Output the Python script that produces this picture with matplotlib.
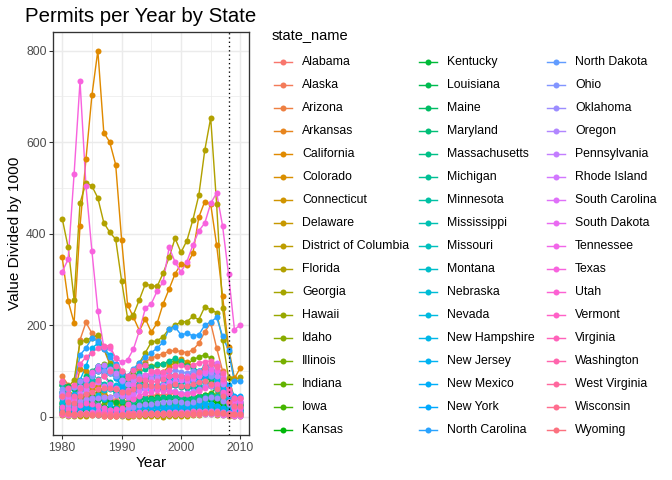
import math
import numpy as np
import matplotlib
matplotlib.use("Agg")
import matplotlib.pyplot as plt
from matplotlib.lines import Line2D

plt.rcParams['font.family'] = ['Liberation Sans', 'DejaVu Sans']

years = list(range(1980, 2011))

alabama = [35,30,29,40,44,47,46,40,38,36,34,34,38,42,45,46,48,47,50,52,48,50,54,58,64,70,66,50,34,22,20]
alaska = [12,15,22,30,28,20,10,4,2,2,3,4,5,6,6,6,5,5,5,5,5,5,6,7,8,8,7,5,3,2,2]
arizona = [88,70,66,168,206,182,172,148,115,92,62,64,80,102,120,128,133,138,143,145,142,140,146,160,185,205,150,100,52,30,32]
arkansas = [22,18,17,22,25,24,22,18,16,15,15,16,20,24,26,27,28,27,28,29,28,29,32,35,40,42,38,30,22,18,17]
california = [348,253,205,417,563,702,800,621,600,551,387,245,217,188,214,185,205,247,279,312,334,332,357,436,470,465,375,264,152,84,107]
colorado = [70,60,45,105,100,78,60,42,32,30,32,45,62,80,88,90,95,98,110,118,125,120,110,95,105,100,90,70,45,22,28]
connecticut = [22,20,22,38,50,62,66,55,42,30,20,18,20,22,24,20,20,22,24,24,22,20,22,24,26,26,22,18,12,8,9]
delaware = [8,7,7,10,12,14,16,15,14,12,10,10,11,12,12,12,13,13,14,14,14,14,15,16,18,17,15,12,9,7,8]
district_of_columbia = [3,2,1,2,2,3,3,2,2,1,1,0,1,1,1,1,1,0,1,1,2,2,3,4,5,6,4,3,2,1,2]
florida = [433,370,256,467,511,504,478,424,403,388,297,216,223,256,290,286,285,314,348,390,359,385,430,484,582,653,464,237,142,80,87]
georgia = [75,65,80,163,168,172,179,150,118,96,78,72,92,118,140,163,166,175,192,200,207,208,219,212,240,234,227,168,85,40,40]
hawaii = [20,18,16,18,20,20,24,28,32,30,28,24,20,18,16,14,12,10,10,12,12,12,14,16,20,22,20,16,12,8,9]
idaho = [10,8,8,10,10,10,10,10,12,16,20,22,26,30,30,28,28,28,28,30,32,34,38,42,48,52,48,34,20,10,10]
illinois = [55,45,42,60,72,90,110,115,112,105,95,85,100,110,115,110,112,115,120,122,118,112,125,130,135,128,110,80,50,24,22]
indiana = [30,22,25,38,42,48,55,60,62,58,52,50,60,70,80,84,85,82,88,92,88,84,85,88,85,80,68,50,35,25,26]
iowa = [18,12,10,16,16,15,15,16,18,20,20,22,26,28,28,26,28,28,30,32,32,34,36,38,40,38,34,30,24,22,24]
kansas = [24,18,16,28,32,30,26,22,20,20,20,22,26,30,32,30,30,30,30,32,30,30,32,35,36,34,30,24,18,14,14]
kentucky = [30,22,20,28,32,34,36,36,34,32,32,30,34,38,40,40,42,40,42,44,42,40,44,46,48,46,40,32,24,18,18]
louisiana = [70,68,60,75,62,40,22,15,14,14,15,18,22,28,32,34,36,38,38,38,36,36,38,40,44,50,65,55,40,30,28]
maine = [10,8,8,12,14,18,22,22,20,16,12,10,10,12,12,12,12,12,14,16,16,16,18,20,22,22,18,14,10,8,8]
maryland = [55,45,45,72,88,100,110,100,95,85,68,60,65,70,72,65,62,62,68,70,65,62,62,65,68,66,58,45,35,28,26]
massachusetts = [28,26,32,50,68,90,100,92,75,52,35,28,32,36,40,38,40,42,44,44,42,38,40,42,46,48,40,34,24,18,20]
michigan = [70,45,38,58,75,88,100,108,110,102,90,80,88,96,105,108,115,115,122,128,122,110,105,100,96,85,62,40,24,15,16]
minnesota = [46,40,42,70,78,80,78,72,64,56,52,52,58,62,65,62,62,62,68,72,72,75,85,92,96,88,70,50,34,24,26]
mississippi = [22,18,16,20,20,18,16,14,12,12,12,14,16,20,24,24,25,25,26,28,26,26,28,32,36,40,45,38,28,20,20]
missouri = [40,30,30,55,70,78,82,70,60,52,48,46,52,60,64,60,62,62,66,70,66,64,68,72,76,72,60,44,30,22,22]
montana = [7,5,4,6,6,5,4,3,3,3,4,5,7,8,8,7,7,6,6,7,7,7,8,9,10,12,12,10,7,5,5]
nebraska = [15,10,10,16,18,16,14,14,14,16,18,20,22,24,24,22,22,22,24,26,26,26,28,30,30,28,24,20,16,14,14]
nevada = [32,25,22,30,36,40,48,58,65,70,68,55,60,72,85,92,88,85,82,85,88,90,95,100,110,105,88,60,30,15,14]
new_hampshire = [14,14,18,26,32,40,44,38,28,18,10,8,9,10,11,12,12,14,16,16,16,16,18,18,18,16,14,10,7,6,6]
new_jersey = [55,45,50,80,110,150,160,150,135,110,75,50,55,62,70,68,70,72,78,80,80,75,78,80,85,88,80,60,40,30,32]
new_mexico = [18,14,12,20,22,20,16,12,10,10,10,12,16,20,22,20,18,18,18,20,20,22,24,26,28,28,24,18,12,10,10]
new_york = [50,42,45,62,78,95,110,105,95,85,65,55,58,60,62,58,60,62,68,75,80,82,82,88,92,100,95,85,70,45,46]
north_carolina = [75,60,65,135,150,172,165,148,130,115,95,90,105,118,130,140,150,163,192,196,179,182,177,179,200,207,217,176,145,77,78]
north_dakota = [8,6,5,7,8,7,5,3,3,3,3,4,5,6,6,6,6,6,7,7,6,7,8,9,10,10,9,9,8,8,10]
ohio = [60,42,40,65,80,90,100,100,95,88,78,72,80,88,92,90,92,92,98,102,98,95,100,100,96,88,68,50,32,22,22]
oklahoma = [55,60,65,78,58,40,25,18,14,14,16,18,22,26,28,28,30,32,32,34,32,30,32,36,40,42,40,34,28,22,22]
oregon = [42,25,22,35,38,38,40,42,44,48,45,42,50,58,62,62,64,62,58,56,52,52,56,60,66,68,62,50,32,18,18]
pennsylvania = [50,40,42,65,82,95,110,112,105,95,80,72,80,85,88,82,85,88,90,92,88,86,90,92,95,98,88,72,50,38,38]
rhode_island = [5,4,5,7,9,11,12,10,8,6,4,4,4,5,5,5,5,5,6,6,6,6,6,6,6,6,5,4,3,2,2]
south_carolina = [45,38,35,52,60,70,75,68,62,60,50,46,50,56,62,62,65,70,75,78,80,78,82,90,100,115,118,90,55,35,35]
south_dakota = [6,4,4,6,7,6,6,6,6,6,7,8,9,10,10,9,9,9,10,10,10,10,12,12,12,12,12,10,8,8,8]
tennessee = [45,35,38,62,82,98,104,88,72,62,55,58,70,82,92,95,98,92,90,88,85,88,92,95,100,105,100,78,52,32,30]
texas = [317,344,530,733,504,362,231,152,150,128,119,124,148,188,237,247,275,295,370,338,316,339,375,406,423,466,489,417,312,190,201]
utah = [22,16,16,25,30,28,24,18,14,16,20,28,38,46,52,55,58,56,56,54,50,50,52,56,62,70,72,55,32,20,20]
vermont = [6,5,5,7,8,9,10,9,8,6,5,5,5,5,5,5,5,5,5,5,5,5,6,6,7,7,6,5,4,3,3]
virginia = [75,62,70,115,130,140,150,155,155,128,100,90,102,110,112,100,100,98,102,110,112,108,112,118,120,122,108,82,55,40,40]
washington = [78,50,45,62,70,72,80,90,100,110,100,85,90,82,80,75,78,82,90,92,88,85,90,98,108,115,110,95,60,40,40]
west_virginia = [6,5,4,5,6,6,6,6,6,6,6,7,8,9,9,9,9,9,9,9,9,9,10,10,11,11,10,8,6,5,5]
wisconsin = [45,32,30,45,50,55,60,62,62,60,55,55,60,66,70,66,66,65,68,72,68,66,72,75,78,72,60,46,32,24,24]
wyoming = [10,8,6,6,5,4,3,2,2,2,3,3,4,4,5,5,5,5,5,5,5,5,6,6,7,8,8,8,6,5,5]

states = ["Alabama", "Alaska", "Arizona", "Arkansas", "California", "Colorado",
          "Connecticut", "Delaware", "District of Columbia", "Florida", "Georgia",
          "Hawaii", "Idaho", "Illinois", "Indiana", "Iowa", "Kansas", "Kentucky",
          "Louisiana", "Maine", "Maryland", "Massachusetts", "Michigan", "Minnesota",
          "Mississippi", "Missouri", "Montana", "Nebraska", "Nevada", "New Hampshire",
          "New Jersey", "New Mexico", "New York", "North Carolina", "North Dakota",
          "Ohio", "Oklahoma", "Oregon", "Pennsylvania", "Rhode Island",
          "South Carolina", "South Dakota", "Tennessee", "Texas", "Utah", "Vermont",
          "Virginia", "Washington", "West Virginia", "Wisconsin", "Wyoming"]

series = [alabama, alaska, arizona, arkansas, california, colorado, connecticut,
          delaware, district_of_columbia, florida, georgia, hawaii, idaho, illinois,
          indiana, iowa, kansas, kentucky, louisiana, maine, maryland, massachusetts,
          michigan, minnesota, mississippi, missouri, montana, nebraska, nevada,
          new_hampshire, new_jersey, new_mexico, new_york, north_carolina,
          north_dakota, ohio, oklahoma, oregon, pennsylvania, rhode_island,
          south_carolina, south_dakota, tennessee, texas, utah, vermont, virginia,
          washington, west_virginia, wisconsin, wyoming]

cutoff_year = 2008


def hcl_color(h, c=100.0, l=65.0):
    # polar Luv -> sRGB, same as R's hcl()
    xn, yn, zn = 95.047, 100.0, 108.883
    hr = math.radians(h)
    u = c * math.cos(hr)
    v = c * math.sin(hr)
    y = yn * ((l + 16) / 116) ** 3 if l > 8 else yn * l / 903.3
    den = xn + 15 * yn + 3 * zn
    un = 4 * xn / den
    vn = 9 * yn / den
    up = u / (13 * l) + un
    vp = v / (13 * l) + vn
    x = 9.0 * y * up / (4 * vp)
    z = -x / 3 - 5 * y + 3 * y / vp
    x, y, z = x / 100, y / 100, z / 100
    r = 3.240479 * x - 1.537150 * y - 0.498535 * z
    g = -0.969256 * x + 1.875992 * y + 0.041556 * z
    b = 0.055648 * x - 0.204043 * y + 1.057311 * z
    out = []
    for ch in (r, g, b):
        ch = 12.92 * ch if ch <= 0.0031308 else 1.055 * ch ** (1 / 2.4) - 0.055
        out.append(min(max(ch, 0.0), 1.0))
    return tuple(out)


n = len(states)
colors = [hcl_color(15 + i * 360.0 / n) for i in range(n)]

W, H = 672, 480
fig = plt.figure(figsize=(7, 5), dpi=96)

px_l, px_r, px_t, px_b = 53.3, 249.3, 32.3, 435.0
ax = fig.add_axes([px_l / W, 1 - px_b / H, (px_r - px_l) / W, (px_b - px_t) / H])

for vals, col in zip(series, colors):
    ax.plot(years, vals, color=col, lw=1.07, zorder=2)
for vals, col in zip(series, colors):
    ax.plot(years, vals, 'o', color=col, ms=4.5, mew=0, zorder=3)

ax.axvline(cutoff_year, color='black', ls=(0, (1, 2.2)), lw=1.0, zorder=4)

ax.set_xlim(1978.5, 2011.5)
ax.set_ylim(-40, 840)
ax.set_xticks([1980, 1990, 2000, 2010])
ax.set_yticks([0, 200, 400, 600, 800])
ax.set_xticks([1985, 1995, 2005], minor=True)
ax.set_yticks([100, 300, 500, 700], minor=True)
ax.grid(which='major', color='#EBEBEB', lw=1.07, zorder=0)
ax.grid(which='minor', color='#EBEBEB', lw=0.53, zorder=0)
ax.set_axisbelow(True)
ax.tick_params(which='major', length=2.75, width=0.8, color='#333333',
               labelsize=9.2, labelcolor='#4D4D4D', pad=2.2)
ax.tick_params(which='minor', length=0)
for sp in ax.spines.values():
    sp.set_color('#333333')
    sp.set_linewidth(1.0)

fig.text(25 / W, 1 - 22 / H, "Permits per Year by State", fontsize=15.3,
         ha='left', va='baseline', color='black')
fig.text((px_l + px_r) / 2 / W, 1 - 463 / H, "Year", fontsize=11.5,
         ha='center', va='center')
fig.text(15.5 / W, 1 - (px_t + px_b) / 2 / H, "Value Divided by 1000", fontsize=11.5,
         ha='center', va='center', rotation=90)

# legend drawn by hand: 3 columns x 17 rows
fig.text(271.5 / W, 1 - 36 / H, "state_name", fontsize=11, ha='left', va='center')
rows = 17
col_key = [(274.0, 291.7), (419.3, 437.3), (547.3, 565.0)]
col_lab = [302.3, 447.3, 575.0]
for i, (name, col) in enumerate(zip(states, colors)):
    c_i, r_i = divmod(i, rows)
    yy = 1 - (61.7 + r_i * 23.02) / H
    x0, x1 = col_key[c_i]
    fig.add_artist(Line2D([x0 / W, x1 / W], [yy, yy], transform=fig.transFigure,
                          color=col, lw=1.07))
    fig.add_artist(Line2D([(x0 + x1) / 2 / W], [yy], transform=fig.transFigure,
                          marker='o', color=col, ms=4.5, mew=0))
    fig.text(col_lab[c_i] / W, yy, name, fontsize=9.2, ha='left', va='center')

fig.savefig("out.png", dpi=96)
